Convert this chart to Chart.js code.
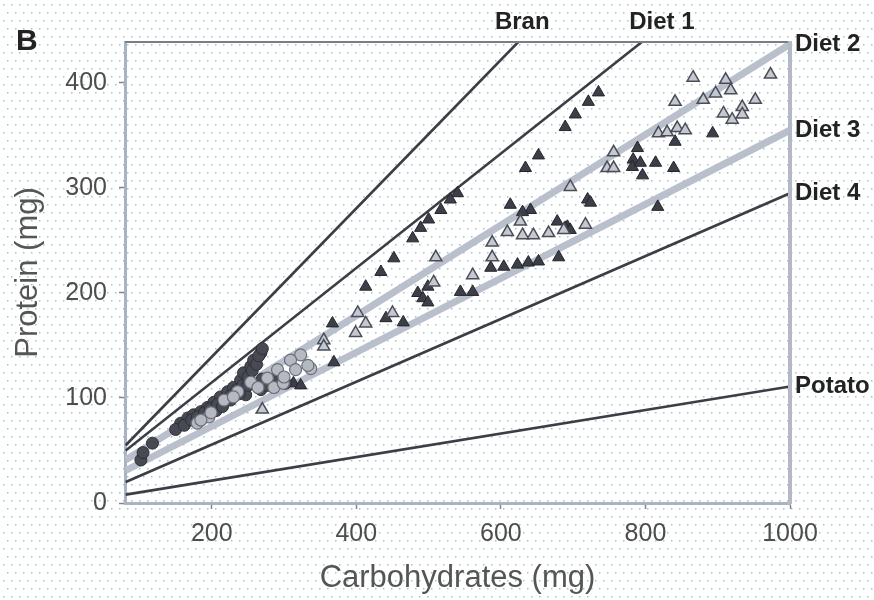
<!DOCTYPE html>
<html>
<head>
<meta charset="utf-8">
<script src="https://cdn.jsdelivr.net/npm/chart.js@4.4.0/dist/chart.umd.min.js"></script>
<style>
  html, body { margin: 0; padding: 0; background: #fff; }
  #wrap { width: 874px; height: 600px; }
</style>
</head>
<body>
<div id="wrap"><canvas id="chart" width="874" height="600"></canvas></div>
<script>
// axis ticks
var xTicks = [200, 400, 600, 800, 1000];
var yTicks = [0, 100, 200, 300, 400];

// reference diets: start / end of each line (carbohydrates, protein)
var lineNames = ["Bran", "Diet 1", "Diet 2", "Diet 3", "Diet 4", "Potato"];
var lineX0 = [81, 81, 81, 81, 81, 81];
var lineY0 = [55, 50, 41, 31, 20, 8];
var lineX1 = [624, 795, 1000, 1000, 1000, 1000];
var lineY1 = [439, 439, 437, 355, 295, 111];

// larvae on the high-protein foods (dark triangles)
var darkTriX = [735, 721, 703, 689, 893, 839, 796, 783, 789, 782, 793, 814, 841, 720, 724, 817, 692, 652, 634,
  540, 530, 517, 500, 489, 478, 452, 434, 413, 613, 641, 630, 678, 689, 696, 586, 604, 623, 638, 652, 680,
  485, 492, 499, 561, 544, 499, 441, 465, 367, 313, 323, 369];
var darkTriY = [391, 382, 370, 358, 352, 319, 312, 327, 338, 320, 324, 324, 344, 289, 286, 282, 263, 331, 319,
  295, 289, 279, 270, 262, 252, 233, 220, 206, 284, 279, 277, 268, 262, 260, 224, 225, 227, 229, 230, 234,
  200, 195, 191, 201, 201, 206, 176, 172, 171, 114, 112, 134];

// light triangles
var lightTriX = [866, 911, 973, 952, 918, 897, 880, 841, 934, 908, 920, 934, 818, 830, 844, 855, 756, 747, 756,
  696, 717, 510, 588, 588, 561, 507, 402, 413, 399, 609, 627, 630, 645, 666, 687, 450, 355, 355, 270];
var lightTriY = [405, 403, 408, 384, 393, 390, 384, 382, 377, 371, 365, 370, 352, 353, 357, 355, 334, 319, 319,
  301, 265, 234, 248, 234, 217, 210, 181, 171, 162, 258, 268, 255, 255, 257, 260, 181, 155, 149, 89];

// dark circles
var darkCircX = [102, 105, 118, 157, 167, 175, 185, 194, 203, 212, 222, 230, 240, 244, 254, 258, 268, 286,
  206, 226, 247, 268, 282, 302, 150, 162, 172, 180, 190, 198, 208, 216, 226, 235, 243, 250, 256, 262, 265,
  270, 250, 238, 270, 290, 276, 215];
var darkCircY = [41, 48, 57, 76, 81, 84, 87, 91, 96, 101, 106, 110, 117, 124, 130, 136, 143, 117,
  88, 98, 103, 108, 112, 114, 70, 74, 79, 82, 86, 90, 94, 98, 102, 108, 112, 120, 126, 132, 140,
  147, 112, 104, 118, 120, 112, 92];

// light circles
var lightCircX = [323, 309, 337, 316, 291, 277, 254, 286, 264, 236, 217, 196, 180, 299, 333, 300, 230, 199, 185];
var lightCircY = [141, 136, 128, 127, 127, 119, 115, 110, 110, 106, 98, 82, 76, 114, 131, 120, 101, 86, 79];

var FONT = "'Liberation Sans', Arial, Helvetica, sans-serif";
// horizontal nudge for the names written above the top edge
var topLabelDx = { "Bran": 4, "Diet 1": 20 };

function pts(xs, ys) {
  return xs.map(function(x, i) { return { x: x, y: ys[i] }; });
}

var datasets = [];

lineNames.forEach(function(name, i) {
  var light = (name === "Diet 2" || name === "Diet 3");
  datasets.push({
    label: name,
    data: [{ x: lineX0[i], y: lineY0[i] }, { x: lineX1[i], y: lineY1[i] }],
    showLine: true,
    borderColor: light ? "#b9c0cc" : "#3b3e45",
    borderWidth: light ? 7 : 2.6,
    pointRadius: 0,
    order: 10
  });
});

datasets.push({
  label: "dark triangles", data: pts(darkTriX, darkTriY),
  pointStyle: "triangle", pointRadius: 7,
  backgroundColor: "#3c3f47", borderColor: "#24262c", borderWidth: 1, order: 4
});
datasets.push({
  label: "light triangles", data: pts(lightTriX, lightTriY),
  pointStyle: "triangle", pointRadius: 7,
  backgroundColor: "#c4c8d0", borderColor: "#4a4d55", borderWidth: 1.5, order: 3
});
datasets.push({
  label: "dark circles", data: pts(darkCircX, darkCircY),
  pointStyle: "circle", pointRadius: 6,
  backgroundColor: "#474a52", borderColor: "#2e3036", borderWidth: 1, order: 2
});
datasets.push({
  label: "light circles", data: pts(lightCircX, lightCircY),
  pointStyle: "circle", pointRadius: 6,
  backgroundColor: "#b5b9c1", borderColor: "#6c6f77", borderWidth: 1.2, order: 1
});

// dotted paper behind everything
var paper = {
  id: "paper",
  beforeDraw: function(chart) {
    var ctx = chart.ctx;
    ctx.save();
    ctx.fillStyle = "#ffffff";
    ctx.fillRect(0, 0, chart.width, chart.height);
    ctx.fillStyle = "rgba(120,178,188,0.75)";
    for (var r = 0, y = 4; y < chart.height; y += 8, r++) {
      for (var x = 3 + (r % 2) * 4; x < chart.width; x += 8) {
        ctx.fillRect(x, y, 1.5, 1.5);
      }
    }
    ctx.restore();
  }
};

// top/right frame, line names and panel letter
var frame = {
  id: "frame",
  afterDatasetsDraw: function(chart) {
    var ctx = chart.ctx, a = chart.chartArea;
    var xs = chart.scales.x, ys = chart.scales.y;
    ctx.save();
    ctx.strokeStyle = "#7a7e86";
    ctx.lineWidth = 2;
    ctx.beginPath();
    ctx.moveTo(a.left, a.top);
    ctx.lineTo(a.right, a.top);
    ctx.stroke();
    ctx.strokeStyle = "#b3bac6";
    ctx.lineWidth = 4;
    ctx.beginPath();
    ctx.moveTo(a.right, a.top - 1);
    ctx.lineTo(a.right, a.bottom + 1);
    ctx.stroke();

    ctx.fillStyle = "#222";
    ctx.font = "bold 24px " + FONT;
    ctx.textBaseline = "middle";
    lineNames.forEach(function(name, i) {
      var px = xs.getPixelForValue(lineX1[i]);
      var py = ys.getPixelForValue(lineY1[i]);
      if (lineX1[i] < xs.max) {
        ctx.textAlign = "center";
        ctx.fillText(name, px + (topLabelDx[name] || 0), a.top - 20);
      } else {
        ctx.textAlign = "left";
        ctx.fillText(name, a.right + 5, py);
      }
    });

    ctx.font = "bold 30px " + FONT;
    ctx.textAlign = "left";
    ctx.fillText("B", 16, 42);
    ctx.restore();
  }
};

function plain(v) { return String(v); }

new Chart(document.getElementById("chart"), {
  type: "scatter",
  data: { datasets: datasets },
  plugins: [paper, frame],
  options: {
    responsive: false,
    animation: false,
    devicePixelRatio: 1,
    layout: { padding: { left: 0, right: 84, top: 42, bottom: 0 } },
    plugins: { legend: { display: false }, tooltip: { enabled: false } },
    scales: {
      x: {
        type: "linear", min: 80, max: 1000,
        afterBuildTicks: function(s) { s.ticks = xTicks.map(function(v) { return { value: v }; }); },
        afterFit: function(s) { s.height = 97; },
        border: { display: true, color: "#aab3c0", width: 3 },
        grid: { drawOnChartArea: false, drawTicks: true, tickLength: 6, tickColor: "#80858d", tickWidth: 1.5 },
        ticks: { color: "#4d4d4d", padding: 10, callback: plain, font: { family: FONT, size: 25 } },
        title: { display: true, text: "Carbohydrates (mg)", color: "#555", padding: { top: 0, bottom: 3 },
          font: { family: FONT, size: 31 } }
      },
      y: {
        type: "linear", min: 0, max: 439,
        afterBuildTicks: function(s) { s.ticks = yTicks.map(function(v) { return { value: v }; }); },
        afterFit: function(s) { s.width = 125; },
        border: { display: true, color: "#aab3c0", width: 3 },
        grid: { drawOnChartArea: false, drawTicks: true, tickLength: 6, tickColor: "#80858d", tickWidth: 1.5 },
        ticks: { color: "#4d4d4d", padding: 12, callback: plain, font: { family: FONT, size: 25 } },
        title: { display: true, text: "Protein (mg)", color: "#555", padding: { top: 10, bottom: 0 },
          font: { family: FONT, size: 31 } }
      }
    }
  }
});
</script>
</body>
</html>
